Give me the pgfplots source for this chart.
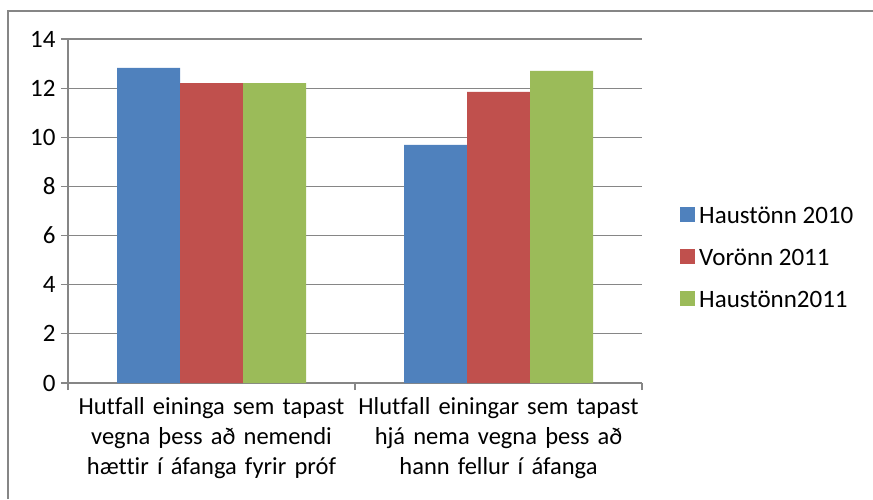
\documentclass[border=0pt]{standalone}
\usepackage{fontspec}
\setmainfont{Carlito}[Ligatures=NoCommon]
\usepackage{pgfplots}
\pgfplotsset{compat=1.18}
\definecolor{cblue}{HTML}{4F81BD}
\definecolor{cred}{HTML}{C0504D}
\definecolor{cgreen}{HTML}{9BBB59}
\definecolor{axgray}{HTML}{868686}
\begin{document}
\begin{tikzpicture}[font=\fontsize{25.5}{30}\selectfont]
\path[use as bounding box] (0,0) rectangle (873pt,499pt);
\draw[axgray, line width=1.2pt] (8pt,0pt) -- (8pt,488pt) -- (873pt,488pt);
\begin{axis}[
  at={(68pt,116pt)}, anchor=south west,
  width=574pt, height=344pt, scale only axis,
  /pgf/number format/assume math mode=true,
  ybar=0pt, bar width=63pt,
  xmin=-0.5, xmax=1.5, ymin=0, ymax=14,
  enlargelimits=false,
  xtick={-0.5,0.5,1.5}, x tick label as interval,
  xticklabels={{Hutfall eininga sem tapast\\vegna þess að nemendi\\hættir í áfanga fyrir próf},{Hlutfall einingar sem tapast\\hjá nema vegna þess að\\hann fellur í áfanga}},
  x tick label style={align=center, text width=340pt, yshift=-4pt, font=\fontsize{24.5}{30}\selectfont},
  y tick label style={font=\fontsize{25}{30}\selectfont, xshift=-2pt},
  ytick={0,2,...,14},
  ymajorgrids, grid style={axgray, line width=1.2pt},
  axis x line=bottom, axis y line=left,
  axis line style={-, axgray, line width=1.2pt},
  tick align=outside, major tick length=7pt,
  tick style={axgray, line width=1.2pt},
  legend style={at={(1,0.363)}, anchor=west, xshift=35pt, draw=none, fill=none,
    row sep=20pt, font=\fontsize{25}{30}\selectfont,
    nodes={inner xsep=4pt}},
  legend cell align=left,
  legend image code/.code={\fill[#1] (0pt,-6pt) rectangle (15pt,9pt);},
]
\addplot[fill=cblue, draw=none] coordinates {(0,12.82) (1,9.69)};
\addplot[fill=cred, draw=none] coordinates {(0,12.2) (1,11.85)};
\addplot[fill=cgreen, draw=none] coordinates {(0,12.2) (1,12.7)};
\legend{Haustönn 2010, Vorönn 2011, Haustönn2011}
\end{axis}
\end{tikzpicture}
\end{document}
